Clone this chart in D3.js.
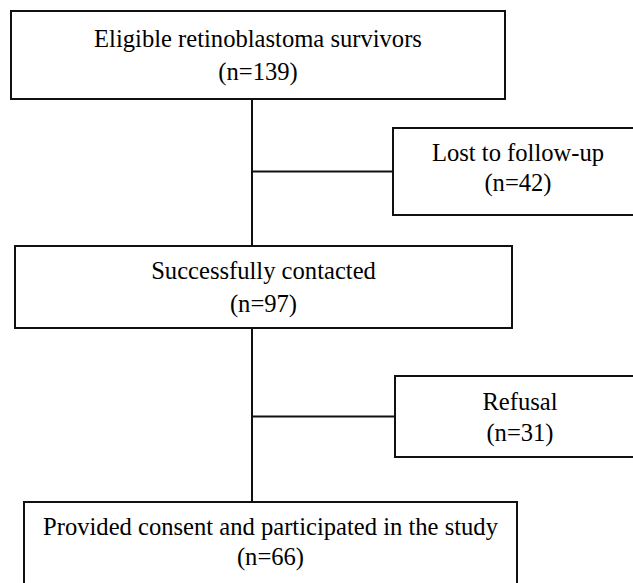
<!DOCTYPE html>
<html>
<head>
<meta charset="utf-8">
<script src="https://cdn.jsdelivr.net/npm/d3@7"></script>
</head>
<body style="margin:0">
<script>
// flow steps (main column) and exclusions (side column)
var stepLabels = ["Eligible retinoblastoma survivors", "Successfully contacted", "Provided consent and participated in the study"];
var stepCounts = [139, 97, 66];
var exclLabels = ["Lost to follow-up", "Refusal"];
var exclCounts = [42, 31];

var width = 633, height = 583;

// box layout (t1/t2 = baselines of the two text lines, from box top)
var mainBoxes = [
    { x: 11, y: 11, w: 494, h: 88, t1: 36, t2: 69 },
    { x: 15, y: 246, w: 497, h: 82, t1: 33, t2: 66 },
    { x: 24, y: 502, w: 493, h: 100, t1: 33, t2: 63 }
];
var sideBoxes = [
    { x: 393, y: 128, w: 250, h: 87, t1: 33, t2: 63 },
    { x: 395, y: 376, w: 250, h: 81, t1: 34, t2: 65 }
];
var trunkX = 252;
var fontSize = 24.6;

var svg = d3.select("body").append("svg")
    .attr("width", width)
    .attr("height", height);

var steps = stepLabels.map(function (d, i) {
    return { label: d, n: stepCounts[i], box: mainBoxes[i] };
});
var excl = exclLabels.map(function (d, i) {
    return { label: d, n: exclCounts[i], box: sideBoxes[i] };
});

// connectors
var lines = svg.append("g")
    .attr("stroke", "#111")
    .attr("stroke-width", 2);

for (var i = 0; i < steps.length - 1; i++) {
    var a = steps[i].box, b = steps[i + 1].box, e = excl[i].box;
    lines.append("line")
        .attr("x1", trunkX).attr("y1", a.y + a.h)
        .attr("x2", trunkX).attr("y2", b.y);
    lines.append("line")
        .attr("x1", trunkX).attr("y1", e.y + e.h / 2)
        .attr("x2", e.x).attr("y2", e.y + e.h / 2);
}

function drawBoxes(data) {
    var g = svg.append("g").selectAll("g")
        .data(data)
        .enter()
        .append("g");

    g.append("rect")
        .attr("x", function (d) { return d.box.x; })
        .attr("y", function (d) { return d.box.y; })
        .attr("width", function (d) { return d.box.w; })
        .attr("height", function (d) { return d.box.h; })
        .attr("fill", "#fff")
        .attr("stroke", "#111")
        .attr("stroke-width", 2);

    g.append("text")
        .attr("x", function (d) { return d.box.x + d.box.w / 2; })
        .attr("y", function (d) { return d.box.y + d.box.t1; })
        .attr("text-anchor", "middle")
        .attr("font-family", "'Liberation Serif'")
        .attr("font-size", fontSize)
        .text(function (d) { return d.label; });

    g.append("text")
        .attr("x", function (d) { return d.box.x + d.box.w / 2; })
        .attr("y", function (d) { return d.box.y + d.box.t2; })
        .attr("text-anchor", "middle")
        .attr("font-family", "'Liberation Serif'")
        .attr("font-size", fontSize)
        .text(function (d) { return "(n=" + d.n + ")"; });
}

drawBoxes(steps);
drawBoxes(excl);
</script>
</body>
</html>
